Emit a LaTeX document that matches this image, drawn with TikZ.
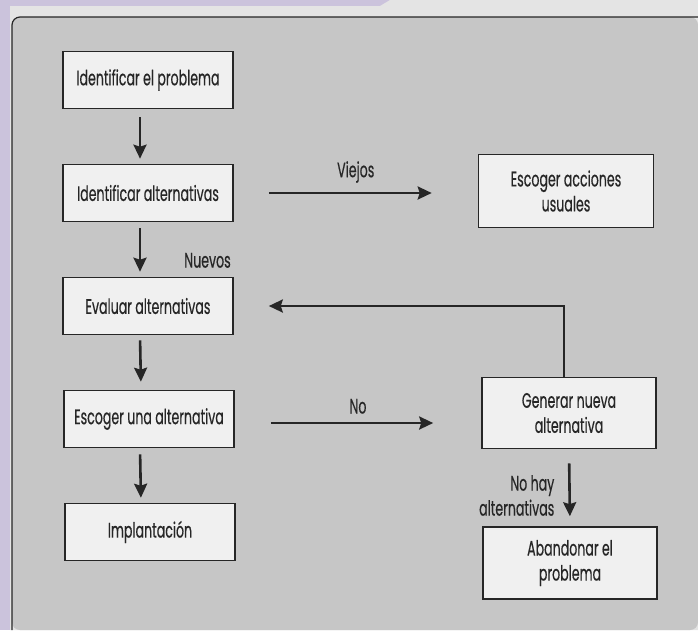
\documentclass[tikz,border=0pt]{standalone}
\usepackage{fontspec}
\setmainfont{Poppins}[FakeStretch=0.6, FakeBold=0.4]
\usetikzlibrary{arrows.meta}
\definecolor{lila}{HTML}{CBC3DC}
\definecolor{papel}{HTML}{E4E4E4}
\definecolor{panel}{HTML}{C6C6C6}
\definecolor{caja}{HTML}{F0F0F0}
\definecolor{tinta}{HTML}{262626}
\begin{document}
\begin{tikzpicture}[x=1pt, y=-1pt,
    paso/.style={draw=tinta, fill=caja, line width=1.6pt, minimum height=57pt,
        minimum width=170pt, align=center, text=tinta},
    flecha/.style={draw=tinta, line width=2.6pt, -{Stealth[length=14pt,width=13pt,inset=2pt]}},
    rotulo/.style={text=tinta, align=right, inner sep=0pt},
    font=\fontsize{21}{25}\selectfont]
    % Decision process: main column on the left, alternatives on the right
    \useasboundingbox (0,0) rectangle (698,630);
    \fill[lila] (0,0) rectangle (698,630);
    \fill[papel] (10,6) -- (380,6) -- (390,0) -- (698,0) -- (698,630) -- (10,630) -- cycle;
    \fill[panel, rounded corners=8pt] (12,630) -- (12,17) -- (698,17) -- (698,630) -- cycle;
    \draw[tinta, line width=1.2pt, rounded corners=8pt] (12,630) -- (12,17) -- (698,17);
    \node[paso] (problema) at (148,80) {Identificar el problema};
    \node[paso] (alternativas) at (148,193) {Identificar alternativas};
    \node[paso] (evaluar) at (148,306) {Evaluar alternativas};
    \node[paso] (escoger) at (149,419) {Escoger una alternativa};
    \node[paso] (implantacion) at (150,532) {Implantación};
    \node[paso, minimum width=175pt, minimum height=73pt] (usuales) at (566,191) {Escoger acciones\\usuales};
    \node[paso, minimum width=174pt, minimum height=71pt] (generar) at (569,413) {Generar nueva\\alternativa};
    \node[paso, minimum width=174pt, minimum height=72pt] (abandonar) at (570,563) {Abandonar el\\problema};
    \draw[flecha, shorten <=8pt, shorten >=5pt] ([xshift=-8pt]problema.south) -- ([xshift=-8pt]alternativas.north);
    \draw[flecha, shorten <=6pt, shorten >=5pt] ([xshift=-8pt]alternativas.south) -- ([xshift=-8pt]evaluar.north)
        node[rotulo, pos=0.7, anchor=west, xshift=43pt] (nuevos) {Nuevos};
    \draw[flecha, shorten <=5pt, shorten >=8pt] ([xshift=-8pt]evaluar.south) -- ([xshift=-8pt]escoger.north);
    \draw[flecha, shorten <=6pt, shorten >=5pt] ([xshift=-9pt]escoger.south) -- ([xshift=-9pt]implantacion.north);
    \draw[flecha, shorten <=35pt, shorten >=46pt] (alternativas.east) -- (alternativas.east -| usuales.west)
        node[rotulo, midway, above=9pt] (viejos) {Viejos};
    \draw[flecha, shorten <=36pt, shorten >=48pt] ([yshift=-4pt]escoger.east) -- ([yshift=-4pt]escoger.east -| generar.west)
        node[rotulo, midway, above=8pt] (no) {No};
    \draw[flecha, shorten >=35pt] ([xshift=-5pt]generar.north) |- (evaluar.east);
    \draw[flecha, shorten <=14pt, shorten >=10pt] (generar.south) -- (abandonar.north)
        node[rotulo, pos=0.6, anchor=east, xshift=-14pt] (nohay) {No hay\\alternativas};
\end{tikzpicture}
\end{document}
